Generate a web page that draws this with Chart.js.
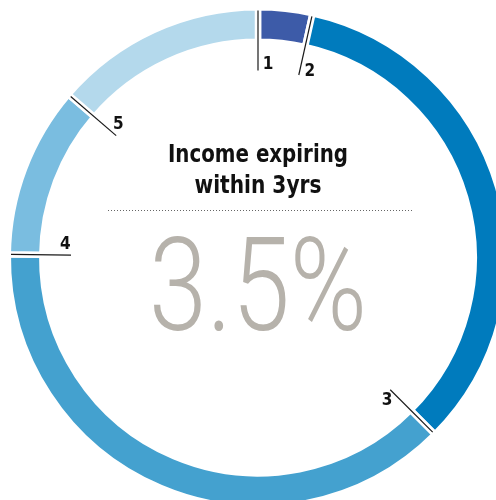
<!DOCTYPE html>
<html>
<head>
<meta charset="utf-8">
<script src="https://cdn.jsdelivr.net/npm/chart.js@4/dist/chart.umd.min.js"></script>
<style>
  html, body { margin: 0; padding: 0; background: #fff; overflow: hidden; }
  #wrap { width: 496px; height: 500px; overflow: hidden; }
  canvas { display: block; }
</style>
</head>
<body>
<div id="wrap"><canvas id="ring" width="516" height="515"></canvas></div>
<script>
const segmentLabels = ["1", "2", "3", "4", "5"];
const segmentValues = [3.5, 34, 37.7, 11.1, 13.7];
const segmentColors = ["#3d5ba8", "#007bbd", "#44a1cf", "#7abde0", "#b4d9ec"];
const titleLines = ["Income expiring", "within 3yrs"];
const headline = "3.5%";

const CONDENSED = '"Liberation Sans Narrow", "DejaVu Sans Condensed", "Roboto", sans-serif';
const GAP = 6.5;

// draw text squeezed to a given width
function fitText(ctx, text, x, y, width) {
  const w = ctx.measureText(text).width;
  ctx.save();
  ctx.translate(x, y);
  ctx.scale(width / w, 1);
  ctx.fillText(text, 0, 0);
  ctx.restore();
}

const leaders = {
  id: "leaders",
  afterDraw(chart) {
    const ctx = chart.ctx;
    const arcs = chart.getDatasetMeta(0).data;
    if (!arcs.length) return;
    const cx = arcs[0].x, cy = arcs[0].y;

    // leader lines + numbers at the start of each segment
    ctx.save();
    ctx.strokeStyle = "#1a1a1a";
    ctx.lineWidth = 1.2;
    ctx.fillStyle = "#111";
    ctx.font = "bold 17px " + CONDENSED;
    ctx.textAlign = "center";
    ctx.textBaseline = "middle";
    arcs.forEach((arc, i) => {
      const a = arc.startAngle;
      ctx.beginPath();
      ctx.moveTo(cx + Math.cos(a) * 247, cy + Math.sin(a) * 247);
      ctx.lineTo(cx + Math.cos(a) * 187, cy + Math.sin(a) * 187);
      ctx.stroke();
      const la = a + 3 * Math.PI / 180;
      ctx.fillText(segmentLabels[i], cx + Math.cos(la) * 193, cy + Math.sin(la) * 193);
    });

    // centre title
    ctx.fillStyle = "#111";
    ctx.textBaseline = "alphabetic";
    ctx.font = "bold 24px " + CONDENSED;
    fitText(ctx, titleLines[0], cx, 162, 180);
    fitText(ctx, titleLines[1], cx, 193, 127);

    // dotted rule
    ctx.strokeStyle = "#666";
    ctx.lineWidth = 1;
    ctx.setLineDash([1, 2]);
    ctx.beginPath();
    ctx.moveTo(108, 210.5);
    ctx.lineTo(412, 210.5);
    ctx.stroke();
    ctx.setLineDash([]);

    // big figure
    ctx.fillStyle = "#b6b2ab";
    ctx.font = "300 129px Roboto, sans-serif";
    fitText(ctx, headline, cx, 330, 218);
    ctx.restore();
  }
};

new Chart(document.getElementById("ring"), {
  type: "doughnut",
  data: {
    labels: segmentLabels,
    datasets: [{
      data: segmentValues,
      backgroundColor: segmentColors,
      borderColor: "#ffffff",
      borderWidth: GAP,
      borderAlign: "center"
    }]
  },
  options: {
    responsive: false,
    animation: false,
    radius: 247 + GAP / 2,
    cutout: "86.2%",
    layout: { padding: 0 },
    plugins: { legend: { display: false }, tooltip: { enabled: false } }
  },
  plugins: [leaders]
});
</script>
</body>
</html>
